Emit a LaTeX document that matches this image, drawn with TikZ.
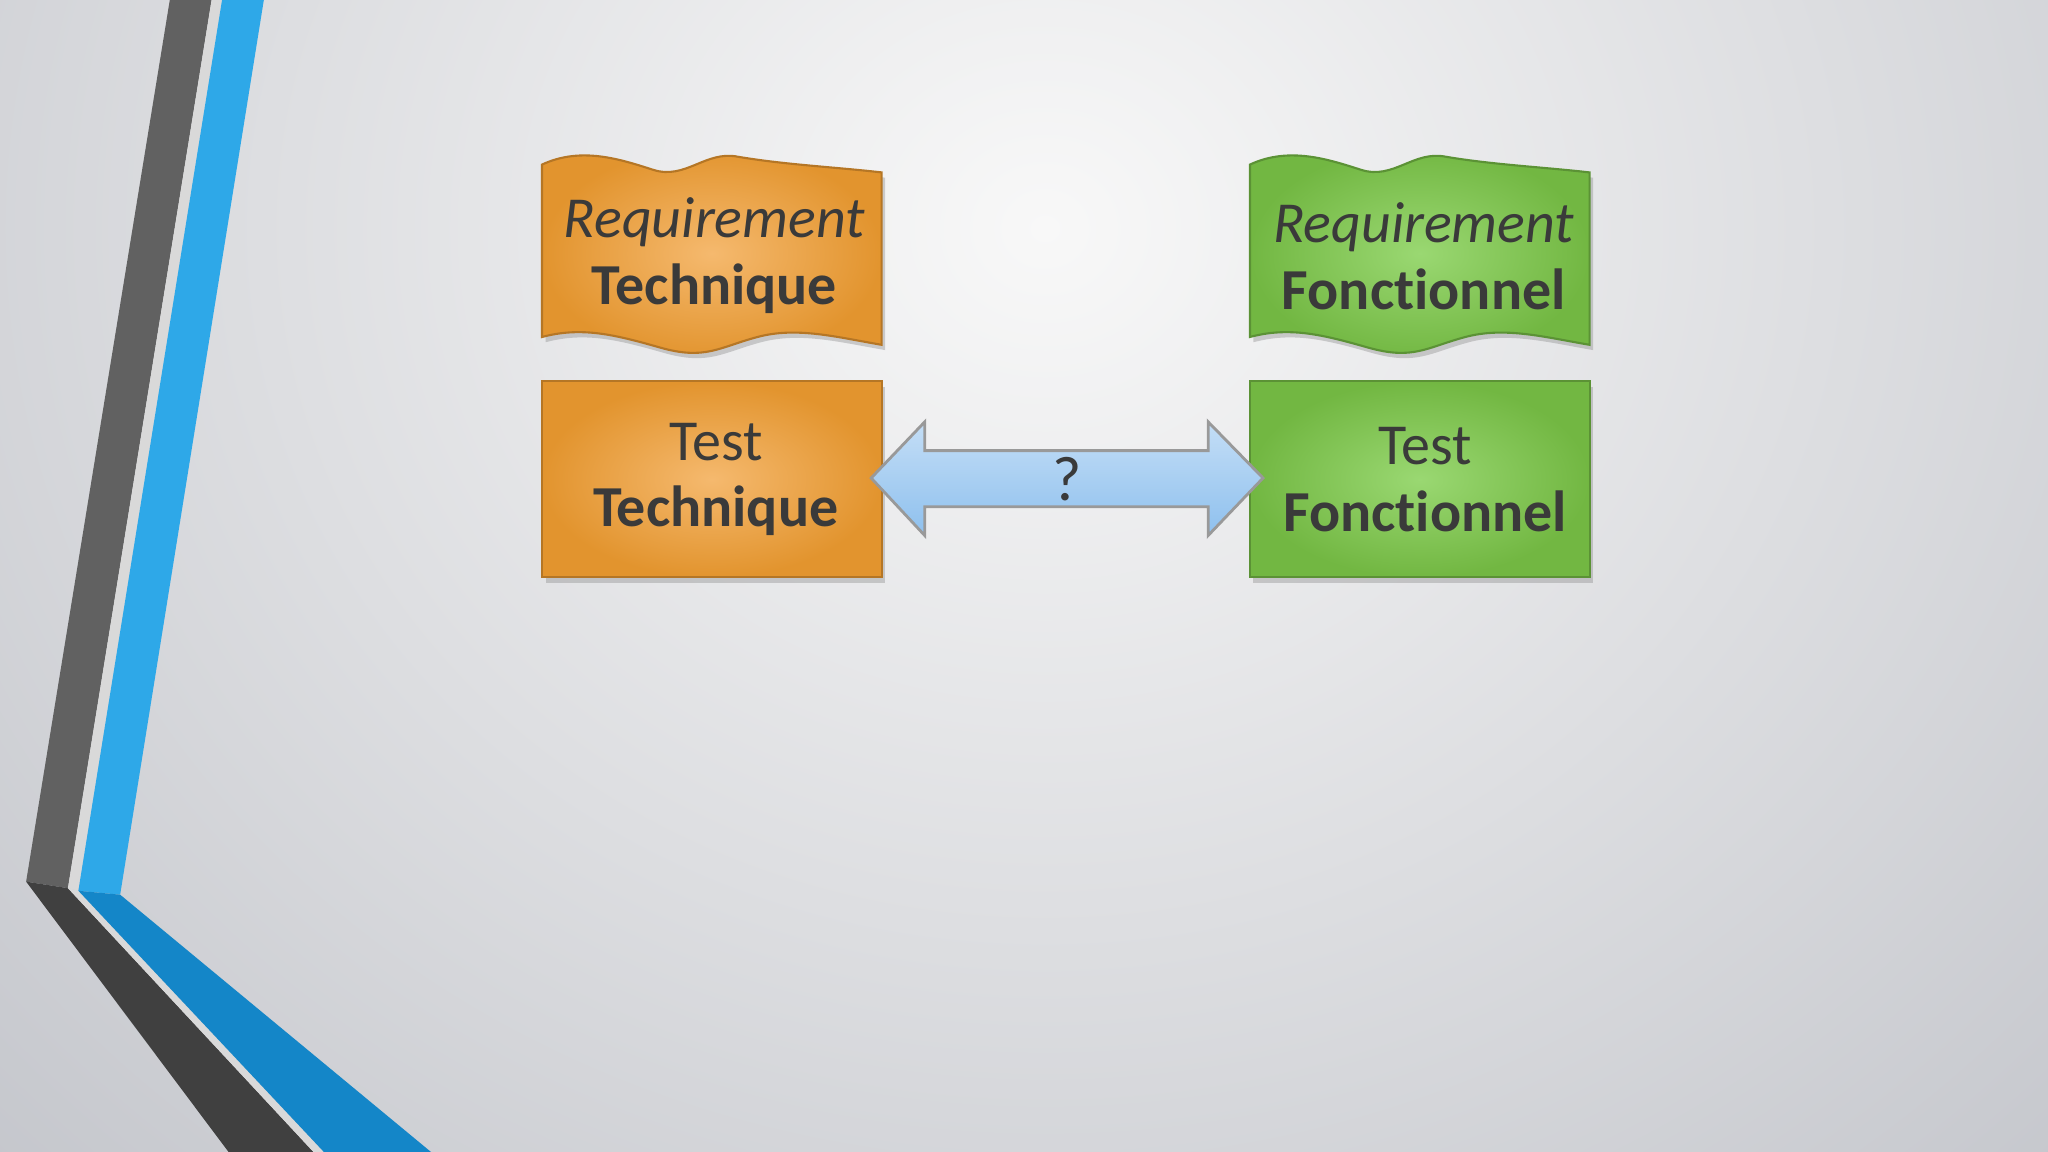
\documentclass[tikz,border=0pt]{standalone}
\usepackage{fontspec}
\setmainfont[Ligatures={NoCommon}]{Carlito}
\usetikzlibrary{shadows}
\definecolor{txt}{HTML}{3A3A3A}
\definecolor{orin}{HTML}{F5B96E}
\definecolor{orout}{HTML}{E2942E}
\definecolor{grin}{HTML}{9AD872}
\definecolor{grout}{HTML}{72B742}
\definecolor{bgin}{HTML}{F8F8F8}
\definecolor{bgout}{HTML}{C2C4CA}
\definecolor{arrtop}{HTML}{C4DEF6}
\definecolor{arrbot}{HTML}{8EC0EE}
\tikzset{
  orbox/.style={inner color=orin,outer color=orout,draw=orout!80!black,line width=0.6pt,drop shadow={opacity=0.35,shadow xshift=1pt,shadow yshift=-1.5pt}},
  grbox/.style={inner color=grin,outer color=grout,draw=grout!80!black,line width=0.6pt,drop shadow={opacity=0.35,shadow xshift=1pt,shadow yshift=-1.5pt}},
  lbl/.style={text=txt,font=\fontsize{16.5}{20}\selectfont,align=center}
}
\begin{document}
\begin{tikzpicture}[x=0.013061cm,y=-0.013061cm]
\useasboundingbox (0,0) rectangle (1568,882);
\fill[inner color=bgin,outer color=bgout] (-400,-900) rectangle (2000,1250);
% stripes
\fill[black!62] (130,0) -- (162,0) -- (52,680) -- (20,675) -- cycle;
\fill[black!75] (20,675) -- (52,680) -- (240,882) -- (175,882) -- cycle;
\fill[white!85!black] (162,0)--(170,0)--(60,682)--(52,680)--cycle;
\fill[white!85!black] (52,680)--(60,682)--(248,882)--(240,882)--cycle;
\fill[fill={rgb,255:red,46;green,168;blue,232}] (170,0) -- (202,0) -- (92,685) -- (60,682) -- cycle;
\fill[fill={rgb,255:red,20;green,134;blue,200}] (60,682) -- (92,685) -- (330,882) -- (248,882) -- cycle;
% wavy boxes
\path[orbox] (415,126) .. controls (445,112) and (475,122) .. (500,130) .. controls (525,138) and (540,115) .. (565,120) .. controls (600,126) and (640,128) .. (675,132)
  -- (675,264) .. controls (640,258) and (610,250) .. (580,258) .. controls (550,266) and (540,276) .. (505,266) .. controls (470,256) and (445,250) .. (415,258) -- cycle;
\path[grbox] (957,126) .. controls (987,112) and (1017,122) .. (1042,130) .. controls (1067,138) and (1082,115) .. (1107,120) .. controls (1142,126) and (1182,128) .. (1217,132)
  -- (1217,264) .. controls (1182,258) and (1152,250) .. (1122,258) .. controls (1092,266) and (1082,276) .. (1047,266) .. controls (1012,256) and (987,250) .. (957,258) -- cycle;
\node[lbl] (rt) at (547,196) {\textit{Requirement}\\[-1pt]\textbf{Technique}};
\node[lbl] (rf) at (1090,196) {\textit{Requirement}\\[-1pt]\textbf{Fonctionnel}};
% rect boxes
\path[orbox] (415,292) rectangle (675,442);
\path[grbox] (957,292) rectangle (1217,442);
\node[lbl] (tt) at (548,367) {Test\\[-1pt]\textbf{Technique}};
\node[lbl] (tf) at (1091,367) {Test\\[-1pt]\textbf{Fonctionnel}};
% arrow
\path[top color=arrtop,bottom color=arrbot,draw=black!40,line width=0.8pt]
 (667,366) -- (708,323) -- (708,345) -- (925,345) -- (925,323) -- (967,366) -- (925,410) -- (925,388) -- (708,388) -- (708,410) -- cycle;
\node[text=txt,font=\fontsize{18}{20}\selectfont] (q) at (817,367) {?};
\end{tikzpicture}
\end{document}
